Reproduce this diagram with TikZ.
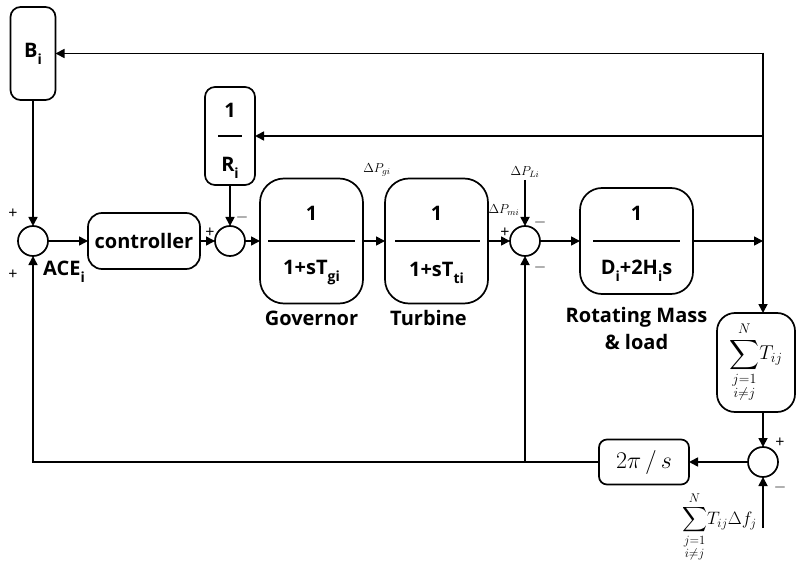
\RequirePackage{fix-cm}
\documentclass[tikz,border=0pt]{standalone}
\usepackage{amsmath}
\usepackage{exscale}
\usepackage[no-math]{fontspec}
\setmainfont{Open Sans}
\usetikzlibrary{positioning,arrows.meta,calc}

\newcommand{\lsub}[1]{\raisebox{-7pt}{\fontsize{14}{14}\selectfont #1}}

\tikzset{
    blk/.style={draw, line width=1.7pt, rounded corners=#1, inner sep=0pt, outer sep=0pt},
    blk/.default=12pt,
    txt/.style={font=\bfseries\fontsize{20}{27}\selectfont, inner sep=0pt},
    sumc/.style={draw, circle, line width=1.7pt, minimum size=30pt, inner sep=0pt, outer sep=0pt},
    sgn/.style={font=\fontsize{16}{16}\selectfont, inner sep=0pt},
    lbl/.style={font=\fontsize{13}{15}\selectfont, inner sep=0pt},
    wire/.style={line width=1.7pt},
    sig/.style={wire, -{Triangle[length=9pt,width=9pt]}},
}

\begin{document}
\begin{tikzpicture}
    \useasboundingbox (0,0) rectangle (797pt,-561pt);

    % forward path
    \node[sumc] (s1) at (33pt,-241pt) {};
    \node[blk=10pt, txt, minimum width=45pt, minimum height=93pt, above=126pt of s1] (bi) {B\lsub{i}};
    \node[blk=14pt, txt, minimum width=112pt, minimum height=56pt, right=40pt of s1] (ctrl) {controller};
    \node[sumc, right=15pt of ctrl] (s2) {};
    \node[blk=10pt, minimum width=50pt, minimum height=98pt, above=41pt of s2] (ri) {};
    \node[blk=24pt, minimum width=103pt, minimum height=125pt, right=15pt of s2] (gov) {};
    \node[blk=24pt, minimum width=103pt, minimum height=125pt, right=22pt of gov] (turb) {};
    \node[sumc, right=22pt of turb] (s3) {};
    \node[blk=22pt, minimum width=113pt, minimum height=106pt, right=40pt of s3] (rot) {};
    \coordinate[right=70pt of rot] (jo);
    \coordinate[above=46pt of s3] (pl);

    % block contents
    \node[txt] (rin) at ([yshift=26pt]ri.center) {1};
    \draw[wire] ([xshift=-12pt]ri.center) -- ([xshift=12pt]ri.center);
    \node[txt] (rid) at ([yshift=-32pt]ri.center) {R\lsub{i}};

    \node[txt] (govn) at ([yshift=28pt]gov.center) {1};
    \draw[wire] ([xshift=8pt]gov.west) -- ([xshift=-8pt]gov.east);
    \node[txt] (govd) at ([yshift=-32pt]gov.center) {1+sT\lsub{gi}};

    \node[txt] (turbn) at ([yshift=28pt]turb.center) {1};
    \draw[wire] ([xshift=10pt]turb.west) -- ([xshift=-8pt]turb.east);
    \node[txt] (turbd) at ([yshift=-32pt]turb.center) {1+sT\lsub{ti}};

    \node[txt] (rotn) at ([yshift=28pt]rot.center) {1};
    \draw[wire] ([xshift=13pt]rot.west) -- ([xshift=-13pt]rot.east);
    \node[txt] (rotd) at ([yshift=-30pt]rot.center) {D\lsub{i}+2H\lsub{i}s};

    \node[txt, below=7pt of gov] (govl) {Governor};
    \node[txt, below=7pt of turb, xshift=-8pt] (turbl) {Turbine};
    \node[txt, below=13pt of rot, align=center] (rotl) {Rotating Mass\\\& load};

    % tie-line part
    \node[blk=18pt, minimum width=78pt, minimum height=99pt, below=72pt of jo, xshift=-7pt,
        font=\fontsize{20}{22}\selectfont] (tij) {$\displaystyle\sum_{\substack{j=1\\ i\neq j}}^{N}\! T_{ij}$};
    \coordinate (tb) at (tij.south -| jo);
    \node[sumc, below=35pt of tb] (s4) {};
    \node[blk=8pt, minimum width=90pt, minimum height=45pt, left=59pt of s4,
        font=\fontsize{24}{26}\selectfont] (tps) {$2\pi\,/\,s$};
    \coordinate[below=51pt of s4] (fin);
    \node[anchor=east, inner sep=0pt, font=\fontsize{18}{20}\selectfont] (sdf) at ([xshift=-6pt,yshift=1pt]fin)
        {$\displaystyle\sum_{\substack{j=1\\ i\neq j}}^{N}\! T_{ij}\Delta f_j$};

    % signals
    \node[lbl, above=2pt of pl] (dpl) {$\Delta P_{Li}$};
    \node[lbl] (dpm) at ([xshift=-21pt,yshift=31pt]s3) {$\Delta P_{mi}$};
    \node[lbl] (dpg) at ([xshift=14pt,yshift=9pt]gov.north east) {$\Delta P_{gi}$};
    \node[txt, anchor=west] (ace) at ([xshift=10pt,yshift=-31pt]s1) {ACE\lsub{i}};

    % signs at the summing points
    \node[sgn] (s1a) at ([xshift=-20pt,yshift=27pt]s1) {+};
    \node[sgn] (s1b) at ([xshift=-20pt,yshift=-34pt]s1) {+};
    \node[sgn] (s2a) at ([xshift=-20pt,yshift=8pt]s2) {+};
    \node[sgn] (s2b) at ([xshift=12pt,yshift=23pt]s2) {$-$};
    \node[sgn] (s3a) at ([xshift=-20pt,yshift=8pt]s3) {+};
    \node[sgn] (s3b) at ([xshift=15pt,yshift=19pt]s3) {$-$};
    \node[sgn] (s3c) at ([xshift=15pt,yshift=-26pt]s3) {$-$};
    \node[sgn] (s4a) at ([xshift=17pt,yshift=19pt]s4) {+};
    \node[sgn] (s4b) at ([xshift=17pt,yshift=-25pt]s4) {$-$};

    \draw[sig] (bi) -- (s1);
    \draw[sig] (s1) -- (ctrl);
    \draw[sig] (ctrl) -- (s2);
    \draw[sig] (ri) -- (s2);
    \draw[sig] (s2) -- (gov);
    \draw[sig] (gov) -- (turb);
    \draw[sig] (turb) -- (s3);
    \draw[sig] (pl) -- (s3);
    \draw[sig] (s3) -- (rot);
    \draw[sig] (rot) -- (jo);
    \draw[sig] ([yshift=0.85pt]jo |- bi) -- (jo |- tij.north);
    \draw[sig] (jo |- bi) -- (bi);
    \draw[sig] (jo |- ri) -- (ri);
    \draw[sig] (tb) -- (s4);
    \draw[sig] (fin) -- (s4);
    \draw[sig] (s4) -- (tps);
    \draw[sig] (tps.west) -- (s1 |- tps) -- (s1);
    \draw[sig] (s3 |- tps) -- (s3);
\end{tikzpicture}
\end{document}
